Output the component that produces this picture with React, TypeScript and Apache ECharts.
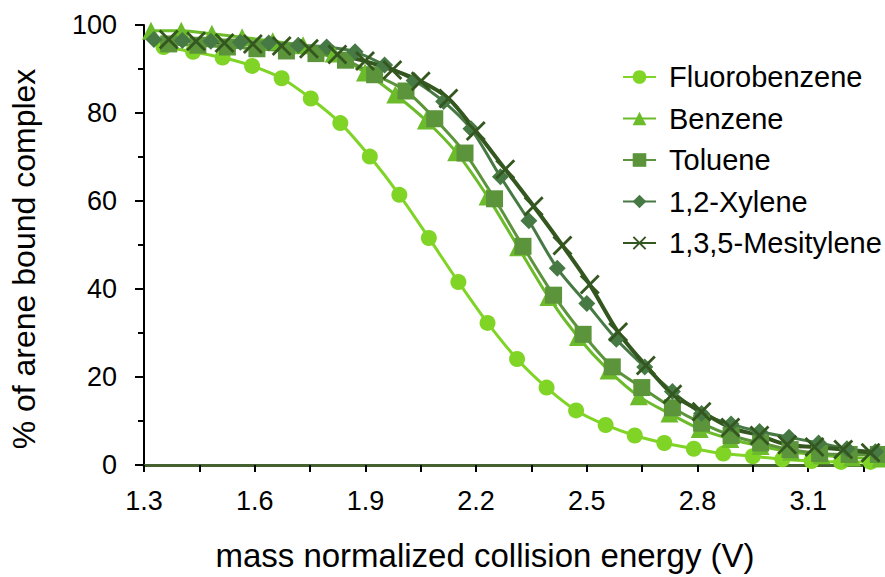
import React, { useEffect, useRef } from "react";
import * as echarts from "echarts";

const seriesNames = ["Fluorobenzene", "Benzene", "Toluene", "1,2-Xylene", "1,3,5-Mesitylene"];

const fluoroX = [1.353, 1.433, 1.513, 1.593, 1.673, 1.752, 1.832, 1.912, 1.992, 2.072, 2.152, 2.231, 2.311, 2.391, 2.471, 2.551, 2.630, 2.710, 2.790, 2.870, 2.950, 3.030, 3.109, 3.189, 3.269];
const fluoroY = [95.0, 93.9, 92.6, 90.7, 87.9, 83.3, 77.7, 70.1, 61.4, 51.6, 41.6, 32.3, 24.1, 17.6, 12.4, 9.1, 6.7, 5.0, 3.7, 2.6, 2.0, 1.3, 0.9, 0.7, 0.7];

const benzeneX = [1.319, 1.401, 1.484, 1.566, 1.649, 1.731, 1.814, 1.899, 1.981, 2.064, 2.146, 2.231, 2.314, 2.396, 2.476, 2.559, 2.641, 2.724, 2.806, 2.889, 2.971, 3.054, 3.136, 3.219, 3.296];
const benzeneY = [98.7, 98.7, 98.0, 97.2, 96.3, 95.4, 93.5, 89.2, 84.2, 78.3, 71.1, 61.0, 49.5, 38.2, 29.1, 21.5, 15.6, 11.7, 8.2, 5.9, 4.3, 3.0, 2.2, 1.7, 1.5];

const tolueneX = [1.367, 1.446, 1.526, 1.606, 1.686, 1.766, 1.846, 1.925, 2.010, 2.088, 2.170, 2.250, 2.327, 2.410, 2.490, 2.569, 2.649, 2.732, 2.811, 2.891, 2.971, 3.051, 3.131, 3.211, 3.290];
const tolueneY = [95.7, 95.4, 95.0, 94.6, 94.1, 93.5, 92.0, 88.7, 85.0, 78.7, 70.9, 60.5, 49.7, 38.6, 29.7, 22.3, 17.6, 13.0, 9.5, 6.7, 5.0, 3.5, 2.6, 2.4, 2.4];

const xyleneX = [1.327, 1.404, 1.481, 1.561, 1.638, 1.718, 1.795, 1.872, 1.952, 2.032, 2.112, 2.186, 2.266, 2.343, 2.420, 2.500, 2.580, 2.657, 2.732, 2.811, 2.891, 2.968, 3.048, 3.128, 3.205, 3.282];
const xyleneY = [96.7, 96.5, 96.3, 96.1, 95.9, 95.4, 95.0, 93.9, 90.9, 87.4, 82.6, 76.4, 65.5, 55.5, 44.7, 36.7, 28.6, 22.3, 16.7, 11.7, 9.3, 7.6, 6.3, 5.0, 3.7, 3.0];

const mesityleneX = [1.367, 1.441, 1.518, 1.595, 1.673, 1.747, 1.824, 1.899, 1.973, 2.050, 2.125, 2.199, 2.279, 2.356, 2.434, 2.508, 2.585, 2.660, 2.732, 2.811, 2.889, 2.968, 3.043, 3.117, 3.195, 3.269];
const mesityleneY = [96.7, 96.3, 95.9, 95.7, 95.2, 94.6, 93.3, 91.8, 89.8, 87.2, 83.3, 75.9, 67.2, 58.8, 49.9, 41.0, 30.2, 22.6, 16.1, 12.1, 8.5, 6.7, 4.6, 4.1, 3.5, 2.8];

const xLabels = ["1.3", "1.6", "1.9", "2.2", "2.5", "2.8", "3.1"];

const FONT = "Liberation Sans, Arial, sans-serif";
const CROSS = "path://M2,0 L10,8 L18,0 L20,2 L12,10 L20,18 L18,20 L10,12 L2,20 L0,18 L8,10 L0,2 Z";

function pairs(xs: number[], ys: number[]) {
  return xs.map((x, i) => [x, ys[i]]);
}

export default function App() {
  const ref = useRef<HTMLDivElement>(null);
  useEffect(() => {
    if (!ref.current) return;
    const chart = echarts.init(ref.current, null, { renderer: "svg" });
    const mk = (name: string, xs: number[], ys: number[], color: string, symbol: string, size: number, lw: number) => ({
      name,
      type: "line",
      data: pairs(xs, ys),
      smooth: 0.3,
      symbol,
      symbolSize: size,
      showAllSymbol: true,
      lineStyle: { color, width: lw },
      itemStyle: { color, borderWidth: 0 },
      emphasis: { disabled: true },
    });
    chart.setOption({
      animation: false,
      grid: { left: 130, right: 3, top: 25, bottom: 91, containLabel: false },
      legend: {
        orient: "vertical",
        left: 617,
        top: 57,
        itemWidth: 33,
        itemHeight: 17,
        itemGap: 11.5,
        textStyle: { fontFamily: FONT, fontSize: 29, color: "#000", lineHeight: 30, padding: [0, 0, 0, 8] },
        data: seriesNames,
      },
      xAxis: {
        type: "value",
        min: 1.3,
        max: 3.3,
        interval: 0.15,
        name: "mass normalized collision energy (V)",
        nameLocation: "middle",
        nameGap: 74,
        nameTextStyle: { fontFamily: FONT, fontSize: 33, color: "#000", padding: [0, 56, 0, 0] },
        axisLine: { onZero: false, lineStyle: { color: "#44612f", width: 3 } },
        axisTick: { show: true, length: 7, lineStyle: { color: "#000", width: 2 } },
        axisLabel: {
          fontFamily: FONT,
          fontSize: 27,
          color: "#000",
          margin: 22,
          showMaxLabel: false,
          formatter: (v: number) => {
            const s = v.toFixed(1);
            return Math.abs((v - 1.3) / 0.3 - Math.round((v - 1.3) / 0.3)) < 0.01 && xLabels.includes(s) ? s : "";
          },
        },
        splitLine: { show: false },
      },
      yAxis: {
        type: "value",
        min: 0,
        max: 100,
        interval: 20,
        name: "% of arene bound complex",
        nameLocation: "middle",
        nameGap: 104,
        nameTextStyle: { fontFamily: FONT, fontSize: 32, color: "#000", padding: [0, 28, 0, 0] },
        axisLine: { show: true, lineStyle: { color: "#000", width: 2 } },
        axisTick: { show: true, length: 9, lineStyle: { color: "#000", width: 2 } },
        minorTick: { show: true, splitNumber: 2, length: 6, lineStyle: { color: "#000", width: 2 } },
        axisLabel: { fontFamily: FONT, fontSize: 27, color: "#000", margin: 27 },
        splitLine: { show: false },
      },
      series: [
        mk(seriesNames[0], fluoroX, fluoroY, "#80d426", "circle", 16, 3),
        mk(seriesNames[1], benzeneX, benzeneY, "#6cbb2a", "triangle", 18, 3),
        mk(seriesNames[2], tolueneX, tolueneY, "#5b943a", "rect", 17, 3),
        mk(seriesNames[3], xyleneX, xyleneY, "#467944", "diamond", 17, 3),
        mk(seriesNames[4], mesityleneX, mesityleneY, "#34571f", CROSS, 20, 4),
      ],
    });
    return () => chart.dispose();
  }, []);
  return <div ref={ref} style={{ width: 885, height: 577, position: "absolute", left: 0, top: 0 }} />;
}
